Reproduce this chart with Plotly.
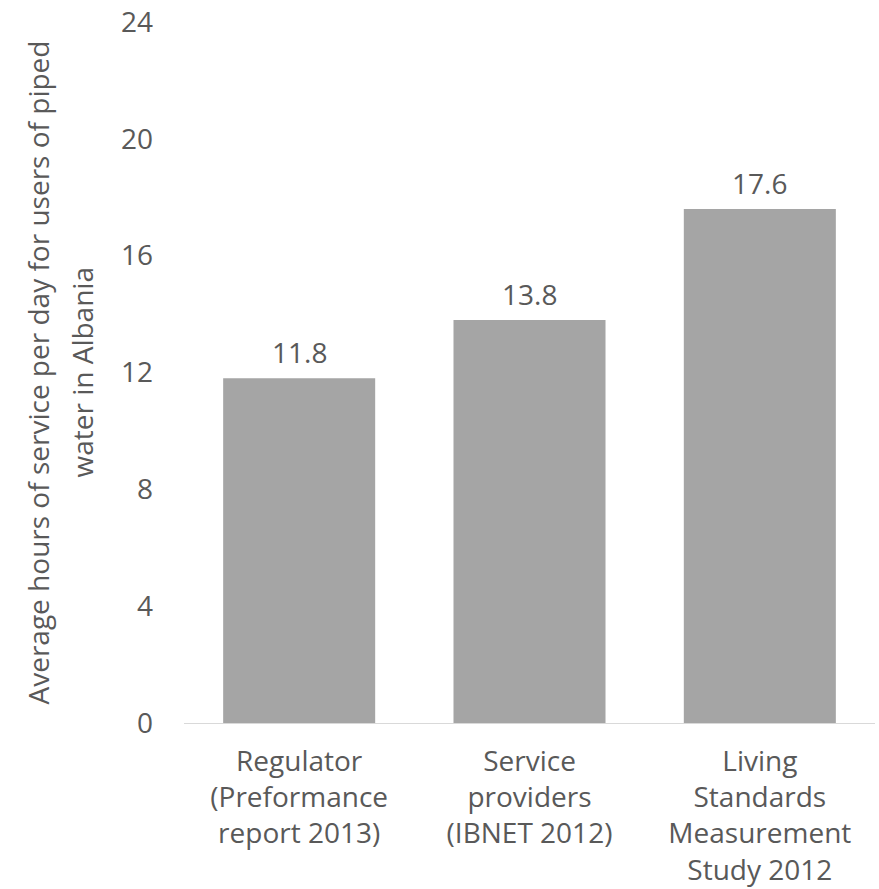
import plotly.graph_objects as go

categories = [
    "Regulator<br>(Preformance<br>report 2013)",
    "Service<br>providers<br>(IBNET 2012)",
    "Living<br>Standards<br>Measurement<br>Study 2012",
]
values = [11.8, 13.8, 17.6]
value_labels = ["11.8", "13.8", "17.6"]
y_ticks = [0, 4, 8, 12, 16, 20, 24]
y_title_lines = ["Average hours of service per day for users of piped", "water in Albania"]

FONT = "Open Sans"
TXT = "#595959"
FS = 28

fig = go.Figure(
    go.Bar(
        x=categories,
        y=values,
        marker=dict(color="#A5A5A5", line=dict(width=0)),
        hoverinfo="skip",
    )
)

W, H = 879, 889
L, R, T, B = 184, 4, 22, 166

fig.update_layout(
    width=W,
    height=H,
    margin=dict(l=L, r=R, t=T, b=B, autoexpand=False),
    paper_bgcolor="white",
    plot_bgcolor="white",
    bargap=0.34,
    showlegend=False,
    font=dict(family=FONT, size=FS, color=TXT),
)
fig.update_xaxes(
    automargin=False,
    showline=True,
    linecolor="#D9D9D9",
    linewidth=1,
    showgrid=False,
    ticks="",
    ticklabelstandoff=13,
    tickfont=dict(family=FONT, size=FS, color=TXT),
)
fig.update_yaxes(
    automargin=False,
    range=[0, 24],
    tickvals=y_ticks,
    showgrid=False,
    zeroline=False,
    showline=False,
    ticks="",
    ticklabelstandoff=30,
    tickfont=dict(family=FONT, size=FS, color=TXT),
)

for cat, val, lab in zip(categories, values, value_labels):
    fig.add_annotation(
        x=cat, y=val, text=lab, xref="x", yref="y",
        yanchor="bottom", yshift=5, showarrow=False,
        font=dict(family=FONT, size=FS, color=TXT),
    )

title_x_px = [37, 81]
for line, px in zip(y_title_lines, title_x_px):
    fig.add_annotation(
        text=line,
        xref="paper",
        yref="paper",
        x=(px - L) / (W - L - R),
        y=0.5,
        xanchor="center",
        yanchor="middle",
        textangle=-90,
        showarrow=False,
        font=dict(family=FONT, size=FS, color=TXT),
    )

fig.write_html("out.html")
